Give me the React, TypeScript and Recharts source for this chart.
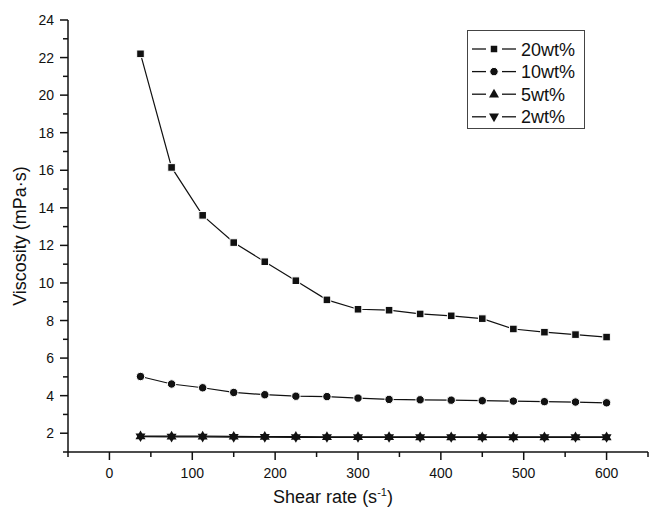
import React from 'react';
import { LineChart, Line, XAxis, YAxis, Legend } from 'recharts';

// shear rate (1/s) and viscosity (mPa·s)
const shearRate = [37.5, 75, 112.5, 150, 187.5, 225, 262.5, 300, 337.5, 375, 412.5, 450, 487.5, 525, 562.5, 600];
const visc20 = [22.2, 16.15, 13.6, 12.15, 11.13, 10.12, 9.1, 8.6, 8.55, 8.35, 8.25, 8.1, 7.55, 7.38, 7.25, 7.12];
const visc10 = [5.02, 4.62, 4.42, 4.17, 4.05, 3.97, 3.95, 3.87, 3.8, 3.78, 3.76, 3.73, 3.71, 3.68, 3.66, 3.62];
const visc5 = [1.85, 1.84, 1.84, 1.83, 1.82, 1.82, 1.81, 1.81, 1.81, 1.8, 1.8, 1.8, 1.8, 1.8, 1.8, 1.8];
const visc2 = [1.82, 1.8, 1.8, 1.79, 1.79, 1.78, 1.78, 1.78, 1.78, 1.78, 1.78, 1.78, 1.78, 1.78, 1.78, 1.78];

const xTicks = [-50, 0, 50, 100, 150, 200, 250, 300, 350, 400, 450, 500, 550, 600, 650];
const yTicks = [1, 2, 3, 4, 5, 6, 7, 8, 9, 10, 11, 12, 13, 14, 15, 16, 17, 18, 19, 20, 21, 22, 23, 24];

const series = [
  { key: 'w20', name: '20wt%', shape: 'square' },
  { key: 'w10', name: '10wt%', shape: 'circle' },
  { key: 'w5', name: '5wt%', shape: 'up' },
  { key: 'w2', name: '2wt%', shape: 'down' },
];

const data = shearRate.map((x, i) => ({
  x,
  w20: visc20[i],
  w10: visc10[i],
  w5: visc5[i],
  w2: visc2[i],
}));

const FONT = '"Liberation Sans", Arial, sans-serif';
const INK = '#111';

function markerShape(shape: string, cx: number, cy: number, key?: any) {
  if (shape === 'square') {
    return <rect key={key} x={cx - 3.8} y={cy - 3.8} width={7.6} height={7.6} fill={INK} stroke="#fff" strokeWidth={1} />;
  }
  if (shape === 'circle') {
    return <circle key={key} cx={cx} cy={cy} r={4.2} fill={INK} stroke="#fff" strokeWidth={1} />;
  }
  if (shape === 'up') {
    return <path key={key} d={`M${cx},${cy - 5.5} L${cx + 5},${cy + 3.2} L${cx - 5},${cy + 3.2} Z`} fill={INK} />;
  }
  return <path key={key} d={`M${cx},${cy + 5.5} L${cx + 5},${cy - 3.2} L${cx - 5},${cy - 3.2} Z`} fill={INK} />;
}

function XTick(props: any) {
  const { x, y, payload } = props;
  const major = payload.value % 100 === 0;
  return (
    <g>
      <line x1={x} x2={x} y1={y} y2={y + (major ? 8 : 5)} stroke={INK} strokeWidth={1.5} />
      {major && (
        <text x={x} y={y + 26} textAnchor="middle" fontSize={14} fontFamily={FONT} fill={INK}>
          {payload.value}
        </text>
      )}
    </g>
  );
}

function YTick(props: any) {
  const { x, y, payload } = props;
  const major = payload.value % 2 === 0;
  return (
    <g>
      <line x1={x} x2={x - (major ? 8 : 5)} y1={y} y2={y} stroke={INK} strokeWidth={1.5} />
      {major && (
        <text x={x - 14} y={y + 5} textAnchor="end" fontSize={14} fontFamily={FONT} fill={INK}>
          {payload.value}
        </text>
      )}
    </g>
  );
}

function LegendBox() {
  return (
    <svg width={118} height={99} style={{ display: 'block', overflow: 'visible' }}>
      <rect x={0.5} y={0.5} width={117} height={98} fill="#fff" stroke="#444" strokeWidth={1} />
      {series.map((s, i) => {
        const cy = 19 + i * 22.6;
        return (
          <g key={s.key}>
            <line x1={5} x2={19} y1={cy} y2={cy} stroke={INK} strokeWidth={1.3} />
            <line x1={35} x2={49} y1={cy} y2={cy} stroke={INK} strokeWidth={1.3} />
            {markerShape(s.shape, 27, cy)}
            <text x={54} y={cy + 6.5} fontSize={18} fontFamily={FONT} fill={INK}>
              {s.name}
            </text>
          </g>
        );
      })}
    </svg>
  );
}

export default function App() {
  return (
    <div style={{ position: 'absolute', left: 0, top: 0, width: 652, height: 508, background: '#fff' }}>
      <LineChart width={652} height={508} data={data} margin={{ top: 20, right: 4, bottom: 0, left: 0 }}>
        <XAxis
          dataKey="x"
          type="number"
          domain={[-50, 650]}
          ticks={xTicks}
          interval={0}
          allowDataOverflow
          height={56}
          tickSize={0}
          tickMargin={0}
          tick={<XTick />}
          axisLine={{ stroke: INK, strokeWidth: 1.5 }}
          label={{
            content: () => (
              <text x={333} y={503} textAnchor="middle" fontSize={18} fontFamily={FONT} fill={INK}>
                Shear rate (s
                <tspan dy={-7} fontSize={11}>-1</tspan>
                <tspan dy={7}>)</tspan>
              </text>
            ),
          }}
        />
        <YAxis
          type="number"
          domain={[1, 24]}
          ticks={yTicks}
          interval={0}
          allowDataOverflow
          width={68}
          tickSize={0}
          tickMargin={0}
          tick={<YTick />}
          axisLine={{ stroke: INK, strokeWidth: 1.5 }}
          label={{
            content: () => (
              <text
                x={20}
                y={236}
                transform="rotate(-90, 20, 236)"
                textAnchor="middle"
                dominantBaseline="central"
                fontSize={18}
                fontFamily={FONT}
                fill={INK}
              >
                Viscosity (mPa·s)
              </text>
            ),
          }}
        />
        <Legend
          layout="horizontal"
          verticalAlign="middle"
          align="center"
          content={() => <LegendBox />}
          wrapperStyle={{ left: 467, top: 30, width: 118, height: 99, right: 'auto', bottom: 'auto', overflow: 'visible' }}
        />
        {series.map((s) => (
          <Line
            key={s.key}
            dataKey={s.key}
            name={s.name}
            type="linear"
            stroke={INK}
            strokeWidth={1.2}
            isAnimationActive={false}
            activeDot={false}
            dot={(p: any) => markerShape(s.shape, p.cx, p.cy, `${s.key}-${p.index}`)}
          />
        ))}
      </LineChart>
    </div>
  );
}
